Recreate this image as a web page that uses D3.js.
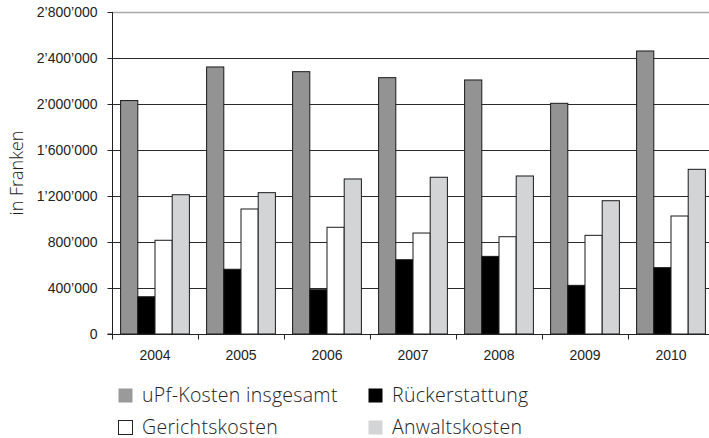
<!DOCTYPE html>
<html>
<head>
<meta charset="utf-8">
<script src="https://cdn.jsdelivr.net/npm/d3@7"></script>
<style>
  body { margin: 0; background: #fff; }
  svg { display: block; }
</style>
</head>
<body>
<div id="container"></div>
<script>
const years = ["2004", "2005", "2006", "2007", "2008", "2009", "2010"];
const seriesNames = ["uPf-Kosten insgesamt", "Rückerstattung", "Gerichtskosten", "Anwaltskosten"];
const upfKosten = [2030000, 2322000, 2281000, 2229000, 2209000, 2006000, 2461000];
const rueckerstattung = [324000, 563000, 385000, 646000, 675000, 423000, 577000];
const gerichtskosten = [815000, 1087000, 928000, 878000, 846000, 858000, 1026000];
const anwaltskosten = [1211000, 1229000, 1348000, 1363000, 1374000, 1159000, 1432000];
const yTicks = [0, 400000, 800000, 1200000, 1600000, 2000000, 2400000, 2800000];

const colors = ["#939393", "#000000", "#ffffff", "#d3d4d6"];
const allSeries = [upfKosten, rueckerstattung, gerichtskosten, anwaltskosten];

const width = 709, height = 438;
const margin = { left: 112, right: -5, top: 12, bottom: 104 };

const svg = d3.select("#container")
  .append("svg")
  .attr("width", width)
  .attr("height", height);

const x = d3.scaleBand()
  .domain(years)
  .range([margin.left, width - margin.right])
  .paddingInner(0)
  .paddingOuter(0);

// 4 bars per year, half a bar of space on each side
const x1 = d3.scaleBand()
  .domain(d3.range(4))
  .range([0, x.bandwidth()])
  .paddingOuter(0.5)
  .paddingInner(0);

const y = d3.scaleLinear()
  .domain([0, 2800000])
  .range([height - margin.bottom, margin.top]);

const fmt = d => d3.format(",")(d).replace(/,/g, "\u2019");

// gridlines
svg.append("g")
  .selectAll("line")
  .data(yTicks.slice(1))
  .enter()
  .append("line")
  .attr("x1", margin.left)
  .attr("x2", width)
  .attr("y1", d => Math.round(y(d)) + 0.5)
  .attr("y2", d => Math.round(y(d)) + 0.5)
  .attr("stroke", d => d === 2800000 ? "#aaaaaa" : "#2a2a2a")
  .attr("stroke-width", d => d === 2800000 ? 1.5 : 1.2);

// bars
const groups = svg.append("g")
  .selectAll("g")
  .data(years)
  .enter()
  .append("g")
  .attr("transform", d => `translate(${x(d)},0)`);

groups.selectAll("rect")
  .data((d, i) => allSeries.map((s, k) => ({ k, v: s[i] })))
  .enter()
  .append("rect")
  .attr("x", d => x1(d.k))
  .attr("width", x1.bandwidth())
  .attr("y", d => y(d.v))
  .attr("height", d => y(0) - y(d.v))
  .attr("fill", d => colors[d.k])
  .attr("stroke", "#1a1a1a")
  .attr("stroke-width", 1);

// y axis
const yAxis = d3.axisLeft(y)
  .tickValues(yTicks)
  .tickSize(5)
  .tickPadding(10)
  .tickFormat(fmt);

svg.append("g")
  .attr("transform", `translate(${margin.left + 0.5},0)`)
  .call(yAxis)
  .call(g => g.selectAll("text")
    .style("font-family", "'Liberation Sans', Arial, sans-serif")
    .style("font-size", "14px")
    .attr("fill", "#222"))
  .call(g => g.selectAll("line").attr("stroke", "#222"))
  .call(g => g.select(".domain").attr("stroke", "#222").attr("d", `M-5,${y(0)}H0V${y(2800000)}`));

// x axis
const xAxis = d3.axisBottom(x)
  .tickSize(0)
  .tickPadding(16);

const xg = svg.append("g")
  .attr("transform", `translate(0,${y(0) + 0.5})`)
  .call(xAxis)
  .call(g => g.select(".domain").attr("stroke", "#222").attr("d", `M${margin.left},0H${width}`))
  .call(g => g.selectAll("text")
    .style("font-family", "'Liberation Sans', Arial, sans-serif")
    .style("font-size", "14px")
    .attr("fill", "#222"));

xg.selectAll("line.sep")
  .data(years)
  .enter()
  .append("line")
  .attr("class", "sep")
  .attr("x1", d => Math.round(x(d)) + 0.5)
  .attr("x2", d => Math.round(x(d)) + 0.5)
  .attr("y1", 0)
  .attr("y2", 5)
  .attr("stroke", "#222");

// y label
svg.append("text")
  .attr("transform", `translate(23,${(y(0) + y(2800000)) / 2}) rotate(-90)`)
  .attr("text-anchor", "middle")
  .style("font-family", "'Open Sans', 'Liberation Sans', sans-serif")
  .style("font-weight", 300)
  .style("font-size", "18px")
  .attr("fill", "#222")
  .text("in Franken");

// legend
const legendPos = [
  { x: 118, y: 388 },
  { x: 368, y: 388 },
  { x: 118, y: 420 },
  { x: 368, y: 420 }
];

const legend = svg.append("g")
  .selectAll("g")
  .data(seriesNames)
  .enter()
  .append("g")
  .attr("transform", (d, i) => `translate(${legendPos[i].x},${legendPos[i].y})`);

legend.append("rect")
  .attr("x", 0.5)
  .attr("y", 0.5)
  .attr("width", 14)
  .attr("height", 14)
  .attr("fill", (d, i) => i === 0 ? "#9a9a9a" : colors[i])
  .attr("stroke", (d, i) => i === 2 ? "#222" : "none");

legend.append("text")
  .attr("x", 24)
  .attr("y", 13.5)
  .style("font-family", "'Open Sans', 'Liberation Sans', sans-serif")
  .style("font-weight", 300)
  .style("font-size", "19.5px")
  .style("letter-spacing", "0.3px")
  .attr("fill", "#222")
  .text(d => d);
</script>
</body>
</html>
